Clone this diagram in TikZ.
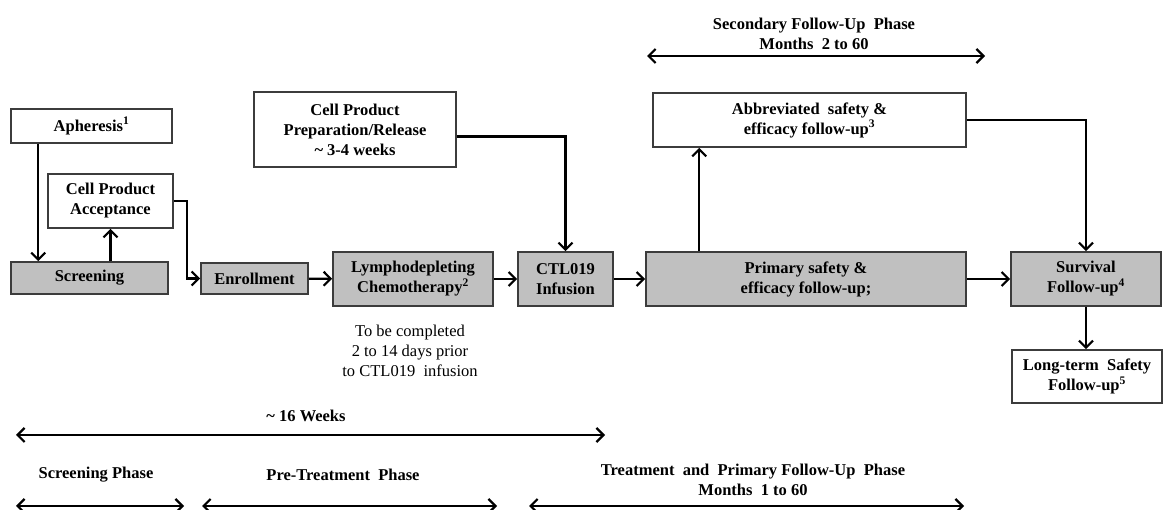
\documentclass[tikz,border=0pt]{standalone}
\usepackage{fontspec}
\setmainfont{Liberation Serif}
\usepackage{xcolor}
\usetikzlibrary{positioning, arrows.meta, calc}
\definecolor{boxgray}{HTML}{C0C0C0}
\definecolor{edgegray}{HTML}{3C3C3C}

\tikzset{
    stage/.style={draw=edgegray, line width=1.6pt, align=center, inner sep=2pt,
                  font=\fontsize{16.5}{20}\selectfont\bfseries},
    active/.style={stage, fill=boxgray},
    flow/.style={line width=2.2pt, -{Straight Barb[length=7pt,width=14pt]}},
    span/.style={line width=2.2pt, {Straight Barb[length=7pt,width=14pt]}-{Straight Barb[length=7pt,width=14pt]}},
    phase/.style={align=center, font=\fontsize{16.5}{20}\selectfont\bfseries}
}

\begin{document}
\begin{tikzpicture}[x=1pt, y=-1pt]
    \useasboundingbox (0,0) rectangle (1163,510);

    \node[stage, minimum width=161pt, minimum height=34pt] (apher) at (91.5,126) {Apheresis\textsuperscript{1}};
    \node[stage, minimum width=125pt, minimum height=54pt] (accept) at (110.5,201) {Cell Product\\Acceptance};
    \node[active, minimum width=157pt, minimum height=32pt] (screen) at (89.5,278) {Screening};
    \node[active, minimum width=107pt, minimum height=31pt] (enroll) at (254.5,278.5) {Enrollment};
    \node[active, minimum width=160pt, minimum height=54pt] (lympho) at (413,279) {Lymphodepleting\\Chemotherapy\textsuperscript{2}};
    \node[active, minimum width=95pt, minimum height=54pt] (ctl) at (565.5,279) {CTL019\\Infusion};
    \node[stage, minimum width=202pt, minimum height=75pt] (prep) at (355,129.5) {Cell Product\\Preparation/Release\\\textasciitilde\ 3-4 weeks};
    \node[stage, minimum width=313pt, minimum height=54pt] (abbrev) at (809.5,120) {Abbreviated\ \ safety \&\\efficacy follow-up\textsuperscript{3}};
    \node[active, minimum width=320pt, minimum height=54pt] (primary) at (806,279) {Primary safety \&\\efficacy follow-up;};
    \node[active, minimum width=150pt, minimum height=54pt] (survival) at (1086,279) {Survival\\Follow-up\textsuperscript{4}};
    \node[stage, minimum width=150pt, minimum height=53pt] (longterm) at (1087,376.5) {Long-term\ \ Safety\\Follow-up\textsuperscript{5}};

    \node[align=center, font=\fontsize{16.5}{20}\selectfont] (note) at (410,351) {To be completed\\2 to 14 days prior\\to CTL019\ \ infusion};

    \draw[flow] ([xshift=28pt]apher.south west) -- ([xshift=28pt]screen.north west);
    \draw[flow] (screen.north -| accept.south) -- (accept.south);
    \draw[flow] (accept.east) -- ++(13,0) |- (enroll.west);
    \draw[flow] (enroll) -- (lympho);
    \draw[flow] (lympho) -- (ctl);
    \draw[flow] ([yshift=-7pt]prep.east) -| (ctl.north);
    \draw[flow] (ctl) -- (primary);
    \draw[flow] ([xshift=54pt]primary.north west) -- ([xshift=47pt]abbrev.south west);
    \draw[flow] (abbrev.east) -| (survival.north);
    \draw[flow] (primary) -- (survival);
    \draw[flow] (survival.south) -- (survival.south |- longterm.north);

    \coordinate (sec-l) at (647,56);
    \coordinate (sec-r) at (985,56);
    \coordinate (wk-l) at (16,435);
    \coordinate (wk-r) at (605,435);
    \coordinate (scr-l) at (16,506);
    \coordinate (scr-r) at (184,506);
    \coordinate (pre-l) at (202,506);
    \coordinate (pre-r) at (497,506);
    \coordinate (trt-l) at (529,506);
    \coordinate (trt-r) at (964,506);

    \node[phase] (sec-lbl) at (814,33.5) {Secondary Follow-Up\ \ Phase\\Months\ \ 2 to 60};
    \node[phase] (wk-lbl) at (306,416) {\textasciitilde\ 16 Weeks};
    \node[phase] (scr-lbl) at (96,475) {Screening Phase};
    \node[phase] (pre-lbl) at (343,475) {Pre-Treatment\ \ Phase};
    \node[phase] (trt-lbl) at (753,480) {Treatment\ \ and\ \ Primary Follow-Up\ \ Phase\\Months\ \ 1 to 60};

    \draw[span] (sec-l) -- (sec-r);
    \draw[span] (wk-l) -- (wk-r);
    \draw[span] (scr-l) -- (scr-r);
    \draw[span] (pre-l) -- (pre-r);
    \draw[span] (trt-l) -- (trt-r);
\end{tikzpicture}
\end{document}
